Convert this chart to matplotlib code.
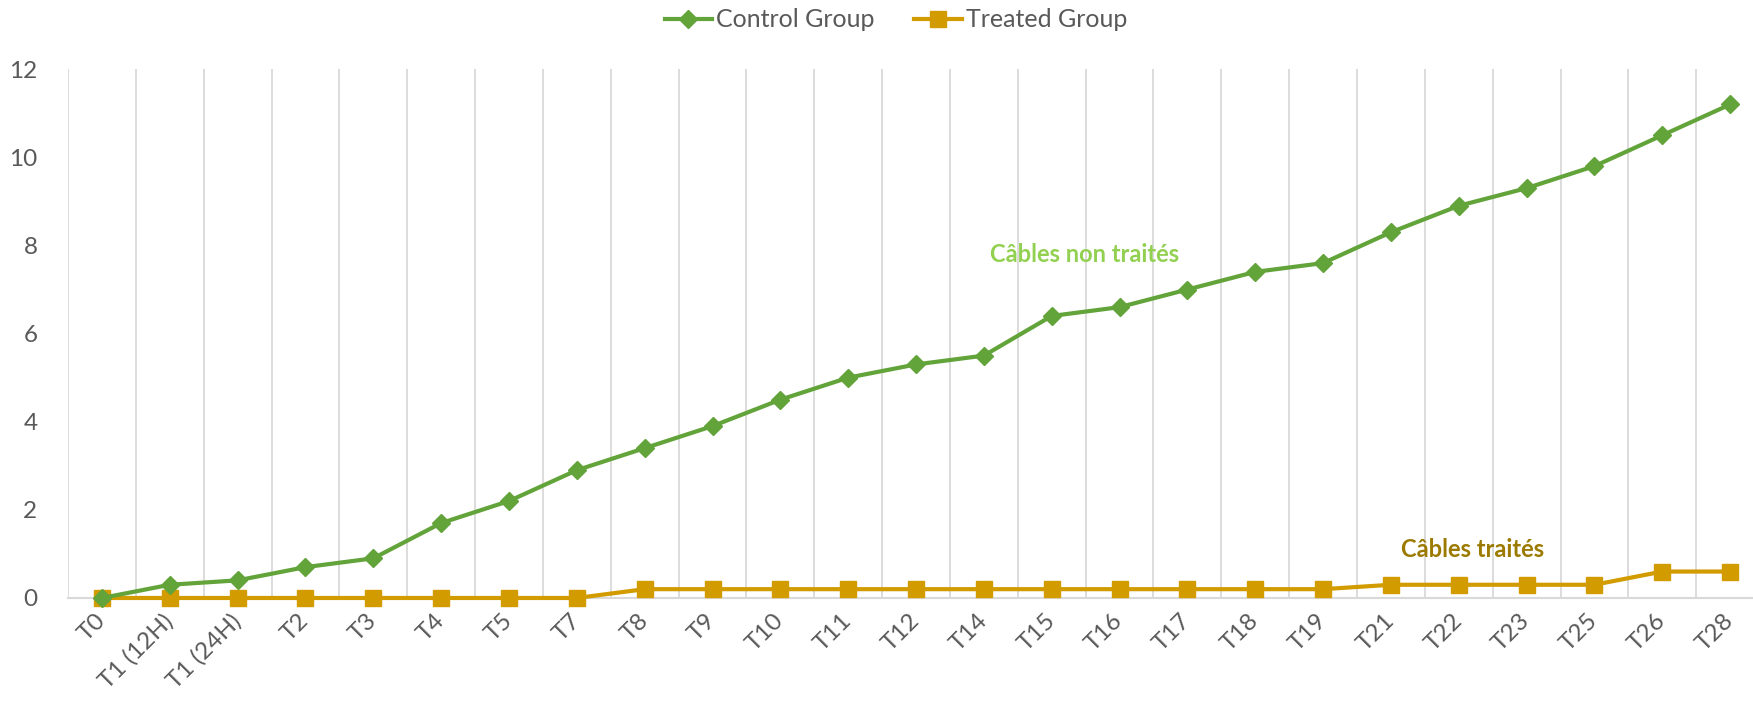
import numpy as np
import matplotlib.pyplot as plt

plt.rcParams['font.family'] = ['Lato', 'DejaVu Sans']

labels = ['T0', 'T1 (12H)', 'T1 (24H)', 'T2', 'T3', 'T4', 'T5', 'T7', 'T8', 'T9',
          'T10', 'T11', 'T12', 'T14', 'T15', 'T16', 'T17', 'T18', 'T19', 'T21',
          'T22', 'T23', 'T25', 'T26', 'T28']
control = [0, 0.3, 0.4, 0.7, 0.9, 1.7, 2.2, 2.9, 3.4, 3.9, 4.5, 5.0, 5.3, 5.5,
           6.4, 6.6, 7.0, 7.4, 7.6, 8.3, 8.9, 9.3, 9.8, 10.5, 11.2]
treated = [0, 0, 0, 0, 0, 0, 0, 0, 0.2, 0.2, 0.2, 0.2, 0.2, 0.2, 0.2, 0.2,
           0.2, 0.2, 0.2, 0.3, 0.3, 0.3, 0.3, 0.6, 0.6]
yticks = [0, 2, 4, 6, 8, 10, 12]

green = '#62a33a'
gold = '#d29b00'
grey = '#595959'

fig = plt.figure(figsize=(17.53, 7.06), dpi=100)
ax = fig.add_axes([0.0388, 0.153, 0.9675, 0.749])

x = np.arange(len(labels))
ax.plot(x, control, color=green, lw=3, marker='D', ms=9.5, label='Control Group',
        zorder=4, clip_on=False)
ax.plot(x, treated, color=gold, lw=3, marker='s', ms=11, label='Treated Group',
        zorder=3, clip_on=False)

ax.set_xlim(-0.5, len(labels) - 0.5)
ax.set_ylim(0, 12)
ax.set_yticks(yticks)
ax.set_xticks(x)
ax.set_xticklabels(labels, rotation=45, ha='right', va='center', rotation_mode='anchor')
for b in np.arange(-0.5, len(labels), 1.0):
    ax.axvline(b, color='#d9d9d9', lw=1.3, zorder=1)

for s in ['top', 'right', 'left']:
    ax.spines[s].set_visible(False)
ax.spines['bottom'].set_color('#d9d9d9')
ax.spines['bottom'].set_linewidth(1.5)
ax.tick_params(axis='both', length=0, colors=grey, labelsize=17.5)
ax.tick_params(axis='x', pad=14)
ax.tick_params(axis='y', pad=22)

ax.text(14.48, 7.8, 'Câbles non traités', color='#92d050', fontsize=17,
        fontweight='bold', ha='center', va='center')
ax.text(20.2, 1.09, 'Câbles traités', color='#9c7a00', fontsize=17,
        fontweight='bold', ha='center', va='center')

leg = fig.legend(loc='center', bbox_to_anchor=(0.511, 0.972), ncol=2, frameon=False,
                 fontsize=18, handlelength=1.9, handletextpad=0.15, columnspacing=1.6)
for t in leg.get_texts():
    t.set_color(grey)

fig.savefig('out.png', dpi=100)
